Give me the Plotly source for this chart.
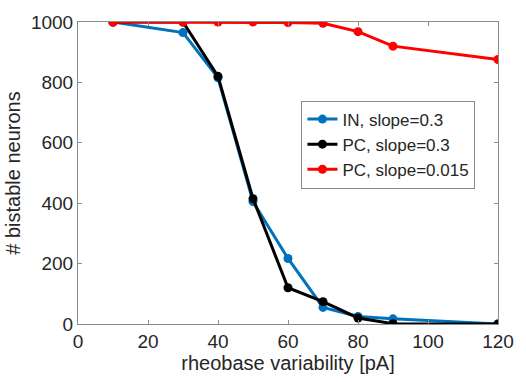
import plotly.graph_objects as go

x_vals = [10, 30, 40, 50, 60, 70, 80, 90, 120]
in_03 = [1000, 965, 815, 405, 217, 55, 25, 17, 0]
pc_03 = [1000, 1000, 820, 415, 120, 74, 20, 1, 0]
pc_0015 = [1000, 1000, 1000, 1000, 998, 996, 968, 920, 876]

names = ["IN, slope=0.3", "PC, slope=0.3", "PC, slope=0.015"]
colors = ["#0072BD", "#000000", "#FF0000"]
series = [in_03, pc_03, pc_0015]

fig = go.Figure()
for nm, c, ys in zip(names, colors, series):
    fig.add_trace(go.Scatter(x=x_vals, y=ys, name=nm, mode="lines+markers",
                             line=dict(color=c, width=3),
                             marker=dict(color=c, size=9, line=dict(width=0))))

axis_common = dict(showgrid=False, zeroline=False, showline=True, linecolor="#8c8c8c",
                   linewidth=1, mirror="ticks", ticks="inside", ticklen=4,
                   tickcolor="#8c8c8c", tickfont=dict(size=19, color="#262626"),
                   title_font=dict(size=20, color="#262626"))

fig.update_layout(
    width=526, height=382,
    margin=dict(l=78, r=16, t=16, b=57),
    paper_bgcolor="white", plot_bgcolor="white",
    font=dict(family="Liberation Sans, Arial, sans-serif", color="#262626"),
    xaxis=dict(range=[0, 120], tickvals=[0, 20, 40, 60, 80, 100, 120],
               title=dict(text="rheobase variability [pA]", standoff=4), **axis_common),
    yaxis=dict(range=[0, 1000], tickvals=[0, 200, 400, 600, 800, 1000],
               title=dict(text="# bistable neurons", standoff=4), **axis_common),
    legend=dict(x=0.532, y=0.74, xanchor="left", yanchor="top",
                bordercolor="#8c8c8c", borderwidth=1, bgcolor="white",
                font=dict(size=17, color="#262626"), tracegroupgap=0,
                itemwidth=30),
    showlegend=True,
)

fig.write_html("out.html")
